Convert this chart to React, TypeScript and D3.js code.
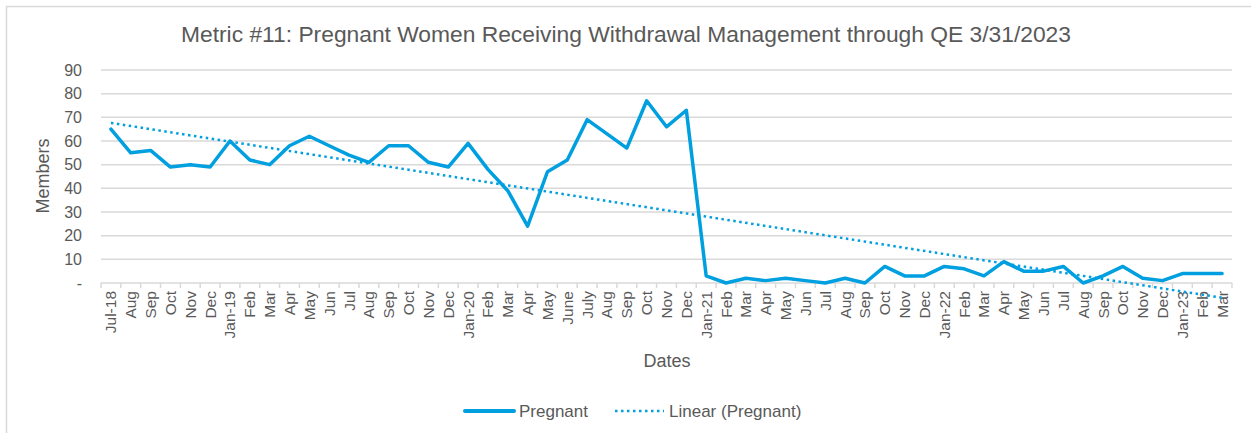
import * as d3 from "d3";
import { useEffect, useRef } from "react";

const TITLE = "Metric #11: Pregnant Women Receiving Withdrawal Management through QE 3/31/2023";
const LINE_COLOR = "#009FDF";
const TEXT_COLOR = "#595959";
const GRID_COLOR = "#D9D9D9";

const months = [
  "Jul-18", "Aug", "Sep", "Oct", "Nov", "Dec",
  "Jan-19", "Feb", "Mar", "Apr", "May", "Jun", "Jul", "Aug", "Sep", "Oct", "Nov", "Dec",
  "Jan-20", "Feb", "Mar", "Apr", "May", "June", "July", "Aug", "Sep", "Oct", "Nov", "Dec",
  "Jan-21", "Feb", "Mar", "Apr", "May", "Jun", "Jul", "Aug", "Sep", "Oct", "Nov", "Dec",
  "Jan-22", "Feb", "Mar", "Apr", "May", "Jun", "Jul", "Aug", "Sep", "Oct", "Nov", "Dec",
  "Jan-23", "Feb", "Mar",
];

const pregnant = [
  65, 55, 56, 49, 50, 49,
  60, 52, 50, 58, 62, 58, 54, 51, 58, 58, 51, 49,
  59, 48, 39, 24, 47, 52, 69, 63, 57, 77, 66, 73,
  3, 0, 2, 1, 2, 1, 0, 2, 0, 7, 3, 3,
  7, 6, 3, 9, 5, 5, 7, 0, 3, 7, 2, 1,
  4, 4, 4,
];

const yTicks = [0, 10, 20, 30, 40, 50, 60, 70, 80, 90];

const App = () => {
  const svgRef = useRef(null);
  const width = 1251;
  const height = 433;

  useEffect(() => {
    const svg = d3.select(svgRef.current);
    svg.selectAll("*").remove();

    const left = 101, right = 1232, top = 70, bottom = 283;
    const keys = months.map((m, i) => i);

    const x = d3.scaleBand<number>().domain(keys).range([left, right]);
    const y = d3.scaleLinear().domain([0, 90]).range([bottom, top]);
    const cx = (i: number) => (x(i) as number) + x.bandwidth() / 2;

    // chart border
    svg
      .append("rect")
      .attr("x", 6.5)
      .attr("y", 6.5)
      .attr("width", 1260)
      .attr("height", 440)
      .attr("fill", "white")
      .attr("stroke", GRID_COLOR)
      .attr("stroke-width", 1.5);

    svg
      .append("text")
      .attr("x", 626)
      .attr("y", 42)
      .attr("text-anchor", "middle")
      .attr("font-size", 22.8)
      .attr("fill", TEXT_COLOR)
      .text(TITLE);

    // gridlines
    svg
      .append("g")
      .selectAll("line")
      .data(yTicks.filter((t) => t > 0))
      .enter()
      .append("line")
      .attr("x1", left)
      .attr("x2", right)
      .attr("y1", (d) => y(d))
      .attr("y2", (d) => y(d))
      .attr("stroke", GRID_COLOR)
      .attr("stroke-width", 1.5);

    // y tick labels
    svg
      .append("g")
      .selectAll("text")
      .data(yTicks)
      .enter()
      .append("text")
      .attr("x", 82)
      .attr("y", (d) => y(d) + 5.5)
      .attr("text-anchor", "end")
      .attr("font-size", 16)
      .attr("fill", TEXT_COLOR)
      .text((d) => (d === 0 ? "-" : String(d)));

    svg
      .append("text")
      .attr("transform", `translate(49,176) rotate(-90)`)
      .attr("text-anchor", "middle")
      .attr("font-size", 18)
      .attr("fill", TEXT_COLOR)
      .text("Members");

    // x axis
    svg
      .append("line")
      .attr("x1", left)
      .attr("x2", right)
      .attr("y1", bottom)
      .attr("y2", bottom)
      .attr("stroke", GRID_COLOR)
      .attr("stroke-width", 1.5);

    svg
      .append("g")
      .selectAll("line")
      .data([...keys, keys.length])
      .enter()
      .append("line")
      .attr("x1", (d) => left + d * x.step())
      .attr("x2", (d) => left + d * x.step())
      .attr("y1", bottom)
      .attr("y2", bottom + 5)
      .attr("stroke", GRID_COLOR)
      .attr("stroke-width", 1.5);

    svg
      .append("g")
      .selectAll("text")
      .data(keys)
      .enter()
      .append("text")
      .attr("transform", (d) => `translate(${cx(d) + 5.5},${bottom + 8}) rotate(-90)`)
      .attr("text-anchor", "end")
      .attr("font-size", 15.5)
      .attr("fill", TEXT_COLOR)
      .text((d) => months[d]);

    svg
      .append("text")
      .attr("x", 667)
      .attr("y", 367)
      .attr("text-anchor", "middle")
      .attr("font-size", 18)
      .attr("fill", TEXT_COLOR)
      .text("Dates");

    // linear trend (least squares, like the spreadsheet's trendline)
    const mx = d3.mean(keys) as number;
    const my = d3.mean(pregnant) as number;
    const slope =
      d3.sum(keys, (k) => (k - mx) * (pregnant[k] - my)) /
      d3.sum(keys, (k) => (k - mx) * (k - mx));
    const icpt = my - slope * mx;
    const ends = [0, keys.length - 1];

    const line = d3
      .line<number>()
      .x((d) => cx(d))
      .y((d) => y(pregnant[d]));

    svg
      .append("path")
      .attr("d", line(keys) as string)
      .attr("fill", "none")
      .attr("stroke", LINE_COLOR)
      .attr("stroke-width", 3.5)
      .attr("stroke-linejoin", "round")
      .attr("stroke-linecap", "round");

    svg
      .append("path")
      .attr(
        "d",
        d3
          .line<number>()
          .x((d) => cx(d))
          .y((d) => y(icpt + slope * d))(ends) as string
      )
      .attr("fill", "none")
      .attr("stroke", LINE_COLOR)
      .attr("stroke-width", 2.5)
      .attr("stroke-dasharray", "2.5,3.5");

    // legend
    const lg = svg.append("g").attr("font-size", 17).attr("fill", TEXT_COLOR);
    lg.append("line")
      .attr("x1", 465)
      .attr("x2", 514)
      .attr("y1", 411)
      .attr("y2", 411)
      .attr("stroke", LINE_COLOR)
      .attr("stroke-width", 4)
      .attr("stroke-linecap", "round");
    lg.append("text").attr("x", 519).attr("y", 417).text("Pregnant");
    lg.append("line")
      .attr("x1", 615)
      .attr("x2", 664)
      .attr("y1", 411)
      .attr("y2", 411)
      .attr("stroke", LINE_COLOR)
      .attr("stroke-width", 2.5)
      .attr("stroke-dasharray", "2.5,3.5");
    lg.append("text").attr("x", 669).attr("y", 417).text("Linear (Pregnant)");
  }, []);

  return (
    <svg
      ref={svgRef}
      width={width}
      height={height}
      style={{ position: "absolute", left: 0, top: 0, fontFamily: "'Liberation Sans', Arial, sans-serif" }}
    ></svg>
  );
};

export default App;
